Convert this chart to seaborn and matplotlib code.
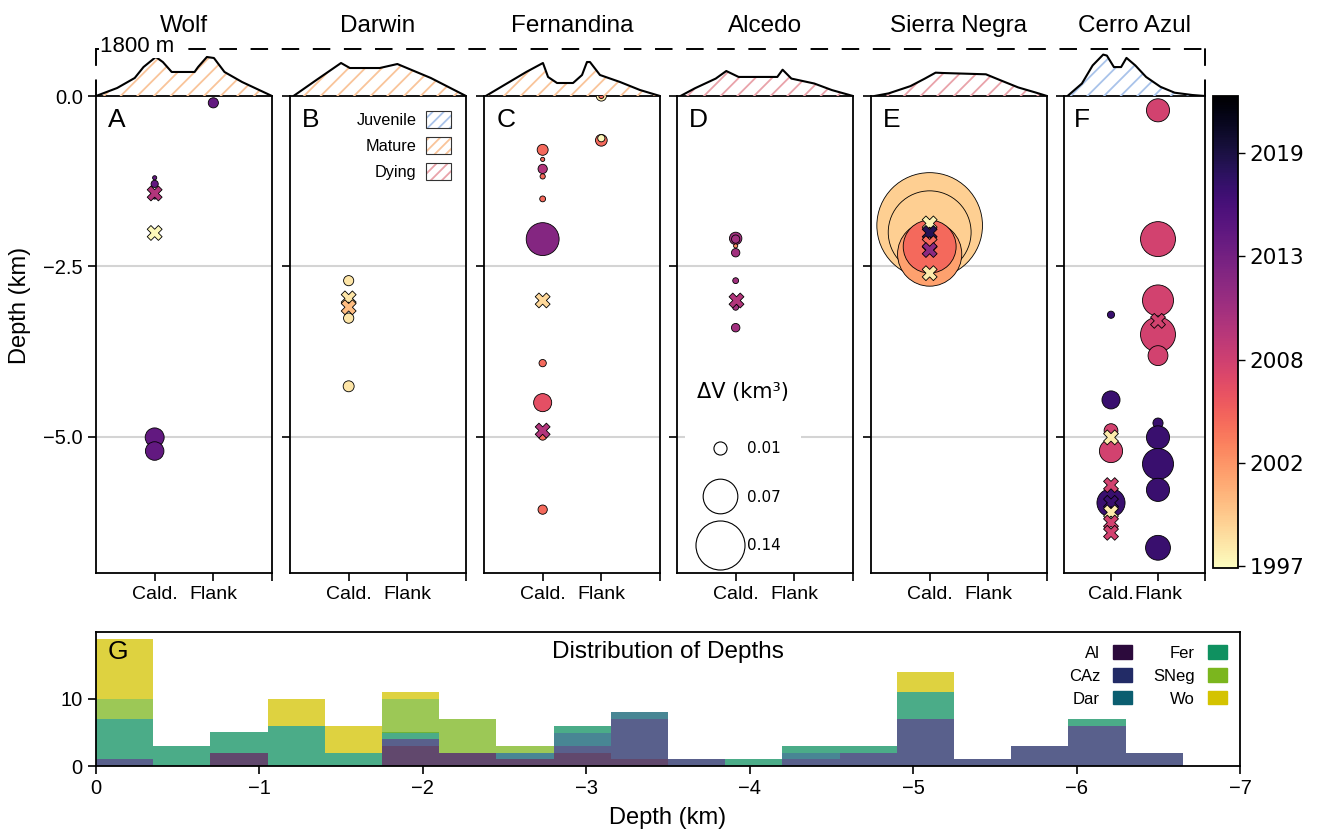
import matplotlib
matplotlib.use("Agg")
import matplotlib.pyplot as plt
import matplotlib.colors as mcolors
import matplotlib.cm as cm
from matplotlib.patches import Patch
from matplotlib.lines import Line2D
from matplotlib.legend_handler import HandlerTuple
import seaborn as sns
import pandas as pd
import numpy as np

sns.set_style("white")
plt.rcParams['font.family'] = ['Liberation Sans', 'DejaVu Sans']
plt.rcParams['hatch.linewidth'] = 1.3
for key in ["text.color", "axes.labelcolor", "xtick.color", "ytick.color"]:
    plt.rcParams[key] = "black"

# ---------------- data ----------------
volcanoes = ["Wolf", "Darwin", "Fernandina", "Alcedo", "Sierra Negra", "Cerro Azul"]
letters = ["A", "B", "C", "D", "E", "F"]
stages = ["Mature", "Mature", "Mature", "Dying", "Dying", "Juvenile"]
stage_colors = {"Juvenile": "#a9c3ea", "Mature": "#f9c49a", "Dying": "#e9a3aa"}

# topographic profiles: fraction across panel, elevation (m)
prof_x = [
    [0.0, 0.12, 0.22, 0.27, 0.34, 0.38, 0.43, 0.56, 0.58, 0.63, 0.67, 0.73, 0.83, 1.0],
    [0.02, 0.15, 0.29, 0.34, 0.51, 0.61, 0.80, 0.90, 1.0],
    [0.01, 0.24, 0.335, 0.364, 0.415, 0.506, 0.557, 0.585, 0.602, 0.659, 0.773, 0.886, 1.0],
    [0.02, 0.10, 0.22, 0.28, 0.35, 0.57, 0.60, 0.65, 0.78, 0.88, 1.0],
    [0.02, 0.10, 0.224, 0.306, 0.367, 0.408, 0.653, 0.735, 0.837, 0.939, 1.0],
    [0.025, 0.127, 0.203, 0.278, 0.304, 0.354, 0.405, 0.443, 0.506, 0.582, 0.684, 0.785, 0.91, 1.0],
]
prof_z = [
    [0, 306, 690, 1110, 1494, 1300, 920, 920, 1110, 1494, 1455, 920, 536, 0],
    [0, 613, 1264, 1072, 1072, 1225, 690, 345, 0],
    [0, 920, 1264, 728, 498, 498, 804, 1302, 1302, 804, 536, 230, 0],
    [0, 290, 667, 957, 730, 730, 1007, 667, 478, 227, 0],
    [0, 100, 378, 667, 894, 881, 831, 604, 327, 126, 0],
    [0, 478, 1170, 1586, 1548, 1108, 1108, 1460, 1170, 730, 352, 126, 38, 0],
]

# deformation sources (loc: 0 = caldera, 1 = flank); circles sized by dV (km3)
circ_loc = [
    [1, 0, 0, 0, 0, 0],
    [0, 0, 0],
    [1, 1, 1, 1, 0, 0, 0, 0, 0, 0, 0, 0, 0, 0],
    [0, 0, 0, 0, 0, 0, 0],
    [0, 0, 0, 0],
    [1, 1, 1, 1, 1, 1, 1, 1, 1, 1, 0, 0, 0, 0, 0],
]
circ_depth = [
    [-0.10, -1.20, -1.29, -1.47, -5.01, -5.21],
    [-2.71, -3.26, -4.26],
    [0.0, 0.0, -0.65, -0.62, -0.79, -0.93, -1.07, -1.18, -1.51, -2.10, -3.92, -4.50, -4.99, -6.07],
    [-2.09, -2.10, -2.20, -2.30, -2.71, -3.10, -3.40],
    [-1.90, -2.00, -2.32, -2.21],
    [-0.21, -2.10, -3.00, -3.50, -3.81, -4.80, -5.01, -5.40, -5.78, -6.63, -3.21, -4.46, -4.91, -5.21, -5.97],
]
circ_year = [
    [2015, 2015, 2015, 2015, 2015, 2015],
    [1998.3, 1998.3, 1998.3],
    [1998, 2005, 2005, 1997.3, 2005, 2005, 2010, 2005, 2005, 2012.8, 2005, 2006.7, 2005, 2005],
    [2011, 2011, 2003, 2011, 2011, 2011, 2011],
    [1999.5, 1999.5, 2002, 2005],
    [2008, 2008, 2008, 2008, 2008, 2017.5, 2017.5, 2017.5, 2017.5, 2017.5, 2017.5, 2017.5, 2008, 2008, 2017.5],
]
circ_dv = [
    [0.006, 0.001, 0.003, 0.002, 0.021, 0.020],
    [0.006, 0.0061, 0.007],
    [0.006, 0.0015, 0.008, 0.003, 0.007, 0.001, 0.005, 0.0016, 0.002, 0.063, 0.0031, 0.019, 0.004, 0.005],
    [0.009, 0.004, 0.001, 0.0041, 0.002, 0.0021, 0.0042],
    [0.65, 0.40, 0.24, 0.163],
    [0.031, 0.071, 0.056, 0.0711, 0.023, 0.006, 0.0311, 0.0561, 0.0312, 0.036, 0.003, 0.019, 0.011, 0.0313, 0.046],
]
# sources without volume estimate (X markers)
cross_loc = [[0, 0], [0, 0], [0, 0], [0], [0, 0, 0, 0, 0], [1, 0, 0, 0, 0, 0, 0]]
cross_depth = [
    [-1.43, -2.01],
    [-2.97, -3.10],
    [-3.00, -4.91],
    [-3.00],
    [-1.87, -2.01, -2.16, -2.26, -2.60],
    [-3.30, -5.01, -5.71, -5.97, -6.11, -6.26, -6.41],
]
cross_year = [
    [2010, 1997.3],
    [1998.3, 2000.5],
    [1999, 2010],
    [2010],
    [1997.5, 2018.7, 2005, 2012.3, 1998],
    [2008, 1998, 2008, 2017.5, 1998, 2008, 2008],
]

# histogram of depths (counts per 0.35 km bin, from 0 downwards)
hist_names = ["Al", "CAz", "Dar", "Fer", "SNeg", "Wo"]
hist_colors = ["#2c0a3c", "#222b66", "#0b5e70", "#0f9160", "#7bb61e", "#d4c300"]
hist_counts = {
    "Al":   [0, 0, 2, 0, 0, 3, 2, 1, 2, 1, 0, 0, 0, 0, 0, 0, 0, 0, 0],
    "CAz":  [1, 0, 0, 0, 0, 1, 0, 0, 1, 6, 1, 0, 1, 2, 7, 1, 3, 6, 2],
    "Dar":  [0, 0, 0, 0, 0, 0, 0, 1, 2, 1, 0, 0, 1, 0, 0, 0, 0, 0, 0],
    "Fer":  [6, 3, 3, 6, 2, 1, 0, 0, 1, 0, 0, 1, 1, 1, 4, 0, 0, 1, 0],
    "SNeg": [3, 0, 0, 0, 0, 5, 5, 1, 0, 0, 0, 0, 0, 0, 0, 0, 0, 0, 0],
    "Wo":   [9, 0, 0, 4, 4, 1, 0, 0, 0, 0, 0, 0, 0, 0, 3, 0, 0, 0, 0],
}
bin_width = 0.35

year_ticks = [1997, 2002.6, 2008.2, 2013.9, 2019.5]
year_labels = ["1997", "2002", "2008", "2013", "2019"]
legend_dv = [0.01, 0.07, 0.14]

# ---------------- layout ----------------
W, H = 1317, 832
SIZE_SCALE = 8900
year_norm = mcolors.Normalize(1996.9, 2022.6)
cmap = plt.get_cmap("magma_r")

fig = plt.figure(figsize=(W / 100, H / 100), dpi=100)

def rect(x0, y0, x1, y1):
    return [x0 / W, 1 - y1 / H, (x1 - x0) / W, (y1 - y0) / H]

panel_left = [96, 290, 484, 677, 871, 1064]
panel_right = [272, 466, 660, 853, 1047, 1205]

# dashed 1800 m reference frame
ax_ref = fig.add_axes(rect(96, 49, 1205, 96))
ax_ref.patch.set_visible(False)
ax_ref.set_xticks([])
ax_ref.set_yticks([])
ax_ref.spines["bottom"].set_visible(False)
for s in ["top", "left", "right"]:
    ax_ref.spines[s].set_linestyle((0, (8, 8)))
    ax_ref.spines[s].set_linewidth(1.4)
    ax_ref.spines[s].set_color("black")
fig.text(100 / W, 1 - 47 / H, "1800 m", fontsize=16, ha="left", va="center",
         bbox=dict(facecolor="white", edgecolor="none", pad=0.5))

panels = []
for i, name in enumerate(volcanoes):
    l, r = panel_left[i], panel_right[i]
    ax = fig.add_axes(rect(l, 96, r, 573))
    panels.append(ax)

    # profile on top
    axp = fig.add_axes(rect(l, 49, r, 96))
    axp.patch.set_visible(False)
    col = stage_colors[stages[i]]
    axp.fill_between(prof_x[i], 0, prof_z[i], facecolor="none", edgecolor=col,
                     hatch="//", linewidth=0)
    sns.lineplot(x=prof_x[i], y=prof_z[i], color="black", lw=1.5, ax=axp)
    axp.set_xlim(0, 1)
    axp.set_ylim(0, 1800)
    axp.axis("off")
    axp.set_title(name, fontsize=17.5, pad=12)

    circ = pd.DataFrame({"loc": circ_loc[i], "depth": circ_depth[i],
                         "year": circ_year[i], "dv": circ_dv[i]})
    cross = pd.DataFrame({"loc": cross_loc[i], "depth": cross_depth[i],
                          "year": cross_year[i]})

    ax.set_axisbelow(True)
    ax.axhline(-2.5, color="#d4d4d4", lw=1.5, zorder=0)
    ax.axhline(-5.0, color="#d4d4d4", lw=1.5, zorder=0)
    sns.scatterplot(data=circ, x="loc", y="depth", hue="year", palette="magma_r",
                    hue_norm=year_norm, size="dv",
                    sizes={v: SIZE_SCALE * v for v in circ["dv"].unique()},
                    edgecolor="black", linewidth=0.6, legend=False, ax=ax, zorder=3)
    sns.scatterplot(data=cross, x="loc", y="depth", hue="year", palette="magma_r",
                    hue_norm=year_norm, marker="X", s=115, edgecolor="black",
                    linewidth=0.6, legend=False, ax=ax, zorder=4)

    ax.set_xlim(-1, 2)
    ax.set_ylim(-7, 0)
    ax.set_xticks([0, 1, 2])
    ax.set_xticklabels(["Cald.", "Flank", ""], fontsize=14)
    ax.set_yticks([0, -2.5, -5.0])
    ax.tick_params(direction="out", length=6, width=1.2, left=True, bottom=True)
    for s in ax.spines.values():
        s.set_linewidth(1.3)
        s.set_color("black")
    ax.set_xlabel("")
    if i == 0:
        ax.set_yticklabels(["0.0", "\u22122.5", "\u22125.0"], fontsize=14.5)
        ax.set_ylabel("Depth (km)", fontsize=17)
        ax.yaxis.set_label_coords(-0.37, 0.56)
    else:
        ax.set_yticklabels([])
        ax.set_ylabel("")
    ax.text(0.07, 0.975, letters[i], transform=ax.transAxes, fontsize=19,
            ha="left", va="top")

# stage legend in panel B
stage_handles = []
for st in ["Juvenile", "Mature", "Dying"]:
    h1 = Patch(facecolor="white", edgecolor=stage_colors[st], hatch="///", linewidth=0)
    h2 = Patch(facecolor="none", edgecolor="#333333", linewidth=0.8)
    stage_handles.append((h1, h2))
panels[1].legend(stage_handles, ["Juvenile", "Mature", "Dying"],
                 handler_map={tuple: HandlerTuple(ndivide=1)},
                 loc="upper right", frameon=False, markerfirst=False,
                 fontsize=11.7, handlelength=1.55, handleheight=1.25,
                 labelspacing=0.55, handletextpad=0.6, borderaxespad=0.5)

# size legend in panel D
size_handles = [Line2D([], [], marker="o", ls="", ms=np.sqrt(SIZE_SCALE * v),
                       mfc="white", mec="black", mew=0.8) for v in legend_dv]
leg = panels[3].legend(size_handles, [f"{v:.2f}" for v in legend_dv],
                       title="\u0394V (km\u00b3)", loc="lower left",
                       bbox_to_anchor=(0.0, 0.0), frameon=True, framealpha=1,
                       facecolor="white", edgecolor="none",
                       labelspacing=2.2, handletextpad=0.8, borderpad=0.8,
                       prop={"family": "DejaVu Sans", "size": 11})
leg.get_title().set_family("DejaVu Sans")
leg.get_title().set_fontsize(15)
leg._legend_box.sep = 28

# colorbar
cax = fig.add_axes(rect(1213, 96, 1238, 568))
sm = cm.ScalarMappable(norm=year_norm, cmap=cmap)
cb = fig.colorbar(sm, cax=cax)
cb.set_ticks(year_ticks)
cb.set_ticklabels(year_labels)
cb.ax.tick_params(labelsize=15.5, length=5, width=1, color="black")
for t in cb.ax.get_yticklabels():
    t.set_family("DejaVu Sans")
cb.outline.set_linewidth(1.3)
cb.outline.set_edgecolor("black")

# histogram G
axh = fig.add_axes(rect(96, 632, 1240, 766))
n_bins = len(hist_counts["Al"])
centers = [-(k + 0.5) * bin_width for k in range(n_bins)]
edges = [-(n_bins - k) * bin_width for k in range(n_bins + 1)]
rows = []
for name in hist_names:
    for c, n in zip(centers, hist_counts[name]):
        rows.append({"center": c, "count": n, "volcano": name})
hist_df = pd.DataFrame(rows)
pal = dict(zip(hist_names, hist_colors))
sns.histplot(data=hist_df, x="center", weights="count", hue="volcano",
             hue_order=hist_names[::-1], palette=pal, bins=edges,
             multiple="stack", alpha=0.75, linewidth=0, legend=False, ax=axh)
axh.set_xlim(0, -7)
axh.set_ylim(0, 20)
axh.set_xticks([0, -1, -2, -3, -4, -5, -6, -7])
axh.set_xticklabels(["0"] + [f"\u2212{k}" for k in range(1, 8)], fontsize=14.5)
axh.set_yticks([0, 10])
axh.set_yticklabels(["0", "10"], fontsize=14.5)
axh.tick_params(direction="out", length=6, width=1.2, left=True, bottom=True)
for s in axh.spines.values():
    s.set_linewidth(1.3)
    s.set_color("black")
axh.set_ylabel("")
axh.set_xlabel("Depth (km)", fontsize=17, labelpad=6)
axh.text(0.5, 0.85, "Distribution of Depths", transform=axh.transAxes,
         fontsize=17.5, ha="center", va="center")
axh.text(0.01, 0.85, "G", transform=axh.transAxes, fontsize=19,
         ha="left", va="center")
hist_handles = [Patch(facecolor=c, edgecolor=c) for c in hist_colors]
axh.legend(hist_handles, hist_names, ncol=2, loc="upper right", frameon=False,
           markerfirst=False, fontsize=12, handlelength=1.1, handleheight=0.85,
           labelspacing=0.45, columnspacing=1.3, handletextpad=0.8,
           borderaxespad=0.4)

fig.savefig("out.png", dpi=100)
